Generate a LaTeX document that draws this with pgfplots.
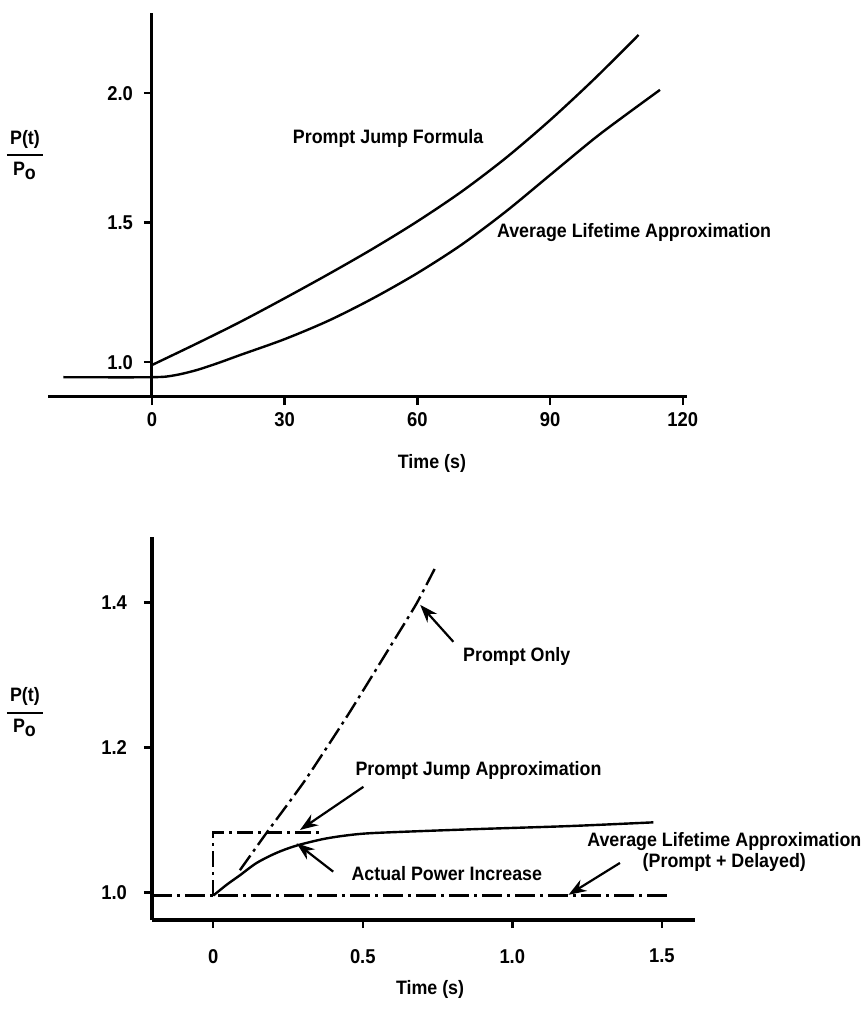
\documentclass[border=0pt]{standalone}
\usepackage{pgfplots}
\pgfplotsset{compat=1.18}
\usepackage{fontspec}
\setmainfont{Liberation Sans}[BoldFeatures={FakeStretch=0.92}]
\usetikzlibrary{arrows.meta}
\newcommand{\lbl}{\fontsize{9.7}{10.8}\selectfont\bfseries}
\newcommand{\frc}{$\displaystyle{\mbox{\,P(t)\,}\above 1pt \mbox{P}_{\mbox{\lbl o}}}$}
\begin{document}
\begin{tikzpicture}[x=1pt,y=1pt]
\useasboundingbox (0,0) rectangle (434,504.5);
% ---------------- top ----------------
\begin{axis}[
  at={(24pt,306pt)}, anchor=south west, scale only axis,
  width=319.6pt, height=192pt,
  xmin=-23.5, xmax=121, ymin=0.8265, ymax=2.31,
  axis x line=bottom, axis y line=middle,
  hide obscured x ticks=false, hide obscured y ticks=false,
  axis line style={-, line width=1.5pt},
  tick style={black, line width=1.2pt},
  tick align=outside, major tick length=4pt,
  xtick={0,30,60,90,120}, xticklabels={0,30,60,90,120},
  ytick={0.961,1.5,2}, yticklabels={1.0,1.5,2.0},
  tick label style={font=\fontsize{10}{12}\selectfont\bfseries},
  /pgf/number format/assume math mode=true,
  yticklabel style={xshift=-2pt},
  clip=false,
]
% prompt jump formula
\addplot[black, line width=1.2pt, smooth, tension=0.5] coordinates {
 (0,0.950) (10,1.032) (20,1.117) (30,1.208) (40,1.302) (50,1.400)
 (60,1.505) (70,1.620) (80,1.750) (90,1.896) (100,2.055) (110,2.225)};
% average lifetime approximation
\addplot[black, line width=1.2pt, smooth, tension=0.5] coordinates {
 (-20,0.903) (0,0.903) (5,0.910) (10,0.930) (15,0.958) (20,0.989)
 (30,1.050) (40,1.122) (50,1.208) (60,1.305) (70,1.415) (80,1.543)
 (90,1.684) (100,1.825) (107,1.915) (114.85,2.013)};
\node[font=\lbl] at (axis cs:53.4,1.827) {Prompt Jump Formula};
\node[font=\lbl] at (axis cs:109.0,1.460) {Average Lifetime Approximation};
\node[font=\lbl] at (axis cs:63.3,0.5715) {Time (s)};
\node[font=\lbl] at (axis cs:-28.7,1.762) {\frc};
\end{axis}
% ---------------- bottom ----------------
\begin{axis}[
  at={(76pt,44.5pt)}, anchor=south west, scale only axis,
  width=271.5pt, height=191.5pt,
  xmin=-0.205, xmax=1.611, ymin=0.9623, ymax=1.4906,
  axis x line=bottom, axis y line=left,
  axis line style={-, line width=2pt},
  tick style={black, line width=1.2pt},
  tick align=outside, major tick length=4pt,
  xtick={0,0.5,1,1.5}, xticklabels={0,0.5,1.0,1.5},
  ytick={1,1.2,1.4}, yticklabels={1.0,1.2,1.4},
  tick label style={font=\fontsize{10}{12}\selectfont\bfseries},
  /pgf/number format/assume math mode=true,
  xticklabel style={yshift=-7pt},
  yticklabel style={xshift=-5pt},
  clip=false,
]
% average lifetime (prompt + delayed)
\addplot[black, line width=1.2pt, dash pattern=on 10pt off 2.5pt on 1.5pt off 2.5pt] coordinates {
 (-0.205,0.996) (1.517,0.996)};
% prompt jump approximation
\addplot[black, line width=1.2pt, dash pattern=on 8pt off 2.5pt on 1.5pt off 2.5pt] coordinates {
 (0,0.996) (0,1.083) (0.368,1.083)};
% prompt only
\addplot[black, line width=1.2pt, dash pattern=on 9pt off 2.5pt on 1.5pt off 2.5pt, smooth, tension=0.3] coordinates {
 (0.089,1.031) (0.179,1.083) (0.307,1.155) (0.45,1.245) (0.60,1.345) (0.68,1.399) (0.747,1.452)};
% actual power increase
\addplot[black, line width=1.2pt, smooth, tension=0.5] coordinates {
 (0,0.996) (0.045,1.011) (0.089,1.024) (0.145,1.041) (0.212,1.055) (0.279,1.065)
 (0.368,1.074) (0.446,1.079) (0.524,1.082) (0.7,1.085) (0.903,1.088) (1.2,1.092) (1.472,1.097)};
\tikzset{arr/.style={-{Stealth[length=9pt,width=6.5pt]}, line width=1.1pt}}
\draw[arr] (axis cs:0.803,1.346) -- (axis cs:0.692,1.397);
\draw[arr] (axis cs:0.502,1.146) -- (axis cs:0.290,1.0865);
\draw[arr] (axis cs:0.401,1.029) -- (axis cs:0.279,1.068);
\draw[arr] (axis cs:1.360,1.041) -- (axis cs:1.188,0.997);
\node[font=\lbl] at (axis cs:1.015,1.326) {Prompt Only};
\node[font=\lbl] at (axis cs:0.887,1.169) {Prompt Jump Approximation};
\node[font=\lbl] at (axis cs:0.781,1.027) {Actual Power Increase};
\node[font=\lbl, align=center] at (axis cs:1.709,1.056) {Average Lifetime Approximation\\(Prompt + Delayed)};
\node[font=\lbl] at (axis cs:0.725,0.866) {Time (s)};
\node[font=\lbl] at (axis cs:-0.630,1.249) {\frc};
\end{axis}
\end{tikzpicture}
\end{document}
